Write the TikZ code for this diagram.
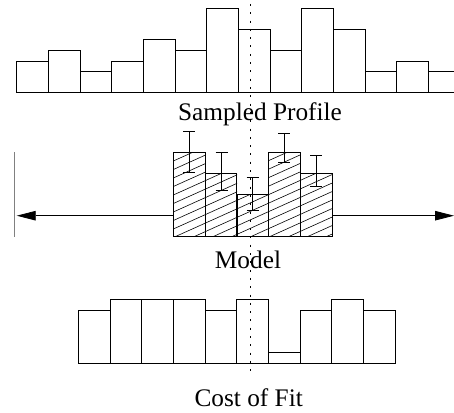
\documentclass[tikz,border=0pt]{standalone}
\usepackage{fontspec}
\setmainfont{Liberation Serif}
\usetikzlibrary{arrows.meta}
\begin{document}
\begin{tikzpicture}[x=1pt,y=-1pt,line width=0.8pt,
  bar/.style={draw=black},
  lbl/.style={anchor=base,inner sep=0pt,font=\fontsize{25.3}{30}\selectfont},
  errbar/.style={draw=black,line width=0.8pt},
  axisarrow/.style={draw=black,line width=0.8pt,-{Triangle[length=19pt,width=9.5pt]}}]
\useasboundingbox (0,0) rectangle (454,412);
% top histogram
\def\w{31.67}
\foreach \h [count=\i from 0] in {3,4,2,3,5,4,8,6,4,8,6,2,3,2} {
  \draw[bar] (16.7+\i*\w,92.7) rectangle (16.7+\i*\w+\w,92.7-\h*10.58);
}
\node[lbl] (sp) at (260,120.7) {Sampled Profile};
% model hatched
\begin{scope}
\clip (173.3,236.7) -- (173.3,152) -- (205,152) -- (205,173) -- (237,173) -- (237,194.3) -- (268.7,194.3) -- (268.7,152) -- (300.3,152) -- (300.3,173) -- (332,173) -- (332,236.7) -- cycle;
\foreach \k in {0,...,22} {
  \draw[line width=0.6pt] (160,150+\k*8.5) -- (360,60+\k*8.5);
}
\end{scope}
\foreach \xa/\t in {173.3/152,205/173,237/194.3,268.7/152,300.3/173} {
  \draw[bar] (\xa,236.7) rectangle (\xa+\w,\t);
}
% error bars
\foreach \xc/\ya/\yb in {189.3/131/172.7,221.5/152/190,252.5/177.7/210.7,284.4/133/162.3,316/155.3/186.7} {
  \draw[errbar] (\xc,\ya) -- (\xc,\yb);
  \draw[errbar] (\xc-6,\ya) -- (\xc+6,\ya);
  \draw[errbar] (\xc-6,\yb) -- (\xc+6,\yb);
}
\coordinate (ml) at (173.3,215.7);
\coordinate (mr) at (332,215.7);
\coordinate (al) at (16.7,215.7);
\coordinate (ar) at (454,215.7);
\draw[axisarrow] (ml) -- (al);
\draw[axisarrow] (mr) -- (ar);
\draw[gray,line width=1.2pt] (14.7,152.3) -- (14.7,236.7);
\node[lbl] (md) at (248,268.3) {Model};
% bottom histogram
\foreach \h [count=\i from 0] in {5,6,6,6,5,6,1,5,6,5} {
  \draw[bar] (78.3+\i*\w,363.3) rectangle (78.3+\i*\w+\w,363.3-\h*10.58);
}
\node[lbl] (cf) at (248.7,406) {Cost of Fit};
% dotted centre line
\coordinate (dt) at (250.3,4);
\coordinate (db) at (250.3,372);
\draw[line width=0.7pt,dash pattern=on 2pt off 6.3pt] (dt) -- (db);
\end{tikzpicture}
\end{document}
